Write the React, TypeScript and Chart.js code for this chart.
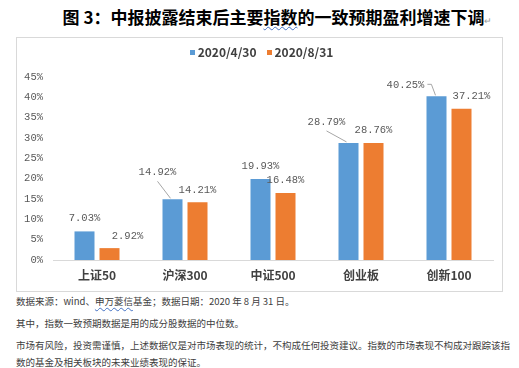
import React, { useEffect, useRef } from "react";
import { Chart, registerables } from "chart.js";

Chart.register(...registerables);

const categories = ["上证50", "沪深300", "中证500", "创业板", "创新100"];
const seriesNames = ["2020/4/30", "2020/8/31"];
const aprilValues = [7.03, 14.92, 19.93, 28.79, 40.25];
const augustValues = [2.92, 14.21, 16.48, 28.76, 37.21];
const yTickValues = [0, 5, 10, 15, 20, 25, 30, 35, 40, 45];
const yTickLabels = ["0%", "5%", "10%", "15%", "20%", "25%", "30%", "35%", "40%", "45%"];

const seriesColors = ["#5B9BD5", "#ED7D31"];

// label placement tweaks (style only, offsets from bar top centre in px)
const labelOffsets = [
  [[0, -13], [-15, -27], [0, -13], [-22, -21], [-31, -11]],
  [[18, -12], [0, -12], [0, -13], [0, -13], [10, -12.5]],
];
const leaderKinds: (string | null)[][] = [
  [null, "below", null, "below", "side"],
  [null, null, null, null, null],
];

const labelPlugin = {
  id: "barLabels",
  afterDatasetsDraw(chart: any) {
    const ctx = chart.ctx;
    ctx.save();
    ctx.font = '10.5px "Liberation Mono"';
    ctx.textAlign = "center";
    ctx.textBaseline = "middle";
    chart.data.datasets.forEach((ds: any, di: number) => {
      const meta = chart.getDatasetMeta(di);
      meta.data.forEach((el: any, i: number) => {
        const [dx, dy] = labelOffsets[di][i];
        const lx = el.x + dx;
        const ly = el.y + dy;
        const text = Number(ds.data[i]).toFixed(2) + "%";
        ctx.fillStyle = "#595959";
        ctx.fillText(text, lx, ly);
        const kind = leaderKinds[di][i];
        if (kind) {
          ctx.strokeStyle = "#A6A6A6";
          ctx.lineWidth = 1;
          ctx.beginPath();
          if (kind === "below") {
            ctx.moveTo(lx, ly + 9);
            ctx.lineTo(el.x - 2, el.y - 1);
          } else {
            const w = ctx.measureText(text).width;
            ctx.moveTo(lx + w / 2 + 3, ly - 1);
            ctx.lineTo(lx + w / 2 + 7, ly - 1);
            ctx.lineTo(el.x - 1, el.y - 1);
          }
          ctx.stroke();
        }
      });
    });
    ctx.restore();
  },
};

export default function App() {
  const canvasRef = useRef<HTMLCanvasElement | null>(null);

  useEffect(() => {
    if (!canvasRef.current) return;
    const chart = new Chart(canvasRef.current, {
      type: "bar",
      data: {
        labels: categories,
        datasets: [
          {
            label: seriesNames[0],
            data: aprilValues,
            backgroundColor: seriesColors[0],
            categoryPercentage: 50 / 88,
            barPercentage: 0.8,
          },
          {
            label: seriesNames[1],
            data: augustValues,
            backgroundColor: seriesColors[1],
            categoryPercentage: 50 / 88,
            barPercentage: 0.8,
          },
        ],
      },
      options: {
        animation: false,
        responsive: false,
        devicePixelRatio: 1,
        layout: { padding: { top: 39, right: 9, left: 0, bottom: 0 } },
        plugins: {
          legend: { display: false },
          tooltip: { enabled: false },
        },
        scales: {
          x: {
            grid: { display: false, drawTicks: false },
            border: { display: true, color: "#D9D9D9", width: 1 },
            ticks: {
              color: "#404040",
              font: { family: '"Noto Sans CJK SC"', size: 12, weight: "bold" },
              padding: 8,
            },
            afterFit(scale: any) {
              scale.height = 31;
            },
          },
          y: {
            min: 0,
            max: 45,
            grid: { display: false, drawTicks: false },
            border: { display: false },
            afterBuildTicks(scale: any) {
              scale.ticks = yTickValues.map((v) => ({ value: v }));
            },
            ticks: {
              color: "#595959",
              font: { family: '"Liberation Mono"', size: 10.5 },
              padding: 10,
              callback: (v: any) => yTickLabels[yTickValues.indexOf(Number(v))] ?? "",
            },
            afterFit(scale: any) {
              scale.width = 36;
            },
          },
        },
      },
      plugins: [labelPlugin],
    });
    return () => chart.destroy();
  }, []);

  const footerStyle: React.CSSProperties = {
    position: "absolute",
    left: 16,
    fontFamily: '"Noto Sans CJK SC"',
    fontSize: 9.5,
    lineHeight: "12px",
    color: "#404040",
    whiteSpace: "nowrap",
  };
  const wavy: React.CSSProperties = {
    textDecoration: "underline wavy #4472C4",
    textDecorationThickness: 1,
    textUnderlineOffset: 2,
  };

  return (
    <div
      style={{
        position: "fixed",
        left: 0,
        top: 0,
        width: 519,
        height: 368,
        background: "#ffffff",
        overflow: "hidden",
      }}
    >
      <div
        style={{
          position: "absolute",
          left: 18,
          top: 6,
          width: 519,
          textAlign: "center",
          fontFamily: '"Noto Sans CJK SC"',
          fontWeight: "bold",
          fontSize: 17,
          lineHeight: "21px",
          color: "#000000",
          whiteSpace: "nowrap",
        }}
      >
        图 3：中报披露结束后主要<span style={wavy}>指数</span>的一致预期盈利增速下调
        <span style={{ fontSize: 9, color: "#999", fontWeight: "normal" }}>↵</span>
      </div>

      <div
        style={{
          position: "absolute",
          left: 16,
          top: 37,
          width: 487,
          height: 255,
          boxSizing: "border-box",
          border: "1px solid #D9D9D9",
        }}
      >
        <canvas ref={canvasRef} width={485} height={253} style={{ display: "block", width: 485, height: 253 }} />
        <div
          style={{
            position: "absolute",
            left: 0,
            top: 7,
            width: 485,
            display: "flex",
            justifyContent: "center",
            alignItems: "center",
            paddingLeft: 4,
            boxSizing: "border-box",
            fontFamily: '"Noto Sans CJK SC"',
            fontWeight: "bold",
            fontSize: 12,
            lineHeight: "14px",
            color: "#404040",
          }}
        >
          {seriesNames.map((n, i) => (
            <div key={n} style={{ display: "flex", alignItems: "center", marginRight: i === 0 ? 10 : 0 }}>
              <span style={{ display: "inline-block", width: 5, height: 5, background: seriesColors[i], marginRight: 3 }} />
              <span>{n}</span>
            </div>
          ))}
        </div>
      </div>

      <div style={{ ...footerStyle, top: 295 }}>
        数据来源：wind、<span style={wavy}>申万菱信</span>基金；数据日期：2020 年 8 月 31 日。
      </div>
      <div style={{ ...footerStyle, top: 317 }}>其中，指数一致预期数据是用的成分股数据的中位数。</div>
      <div style={{ ...footerStyle, top: 339 }}>
        市场有风险，投资需谨慎，上述数据仅是对市场表现的统计，不构成任何投资建议。指数的市场表现不构成对跟踪该指
      </div>
      <div style={{ ...footerStyle, top: 356 }}>数的基金及相关板块的未来业绩表现的保证。</div>
    </div>
  );
}
